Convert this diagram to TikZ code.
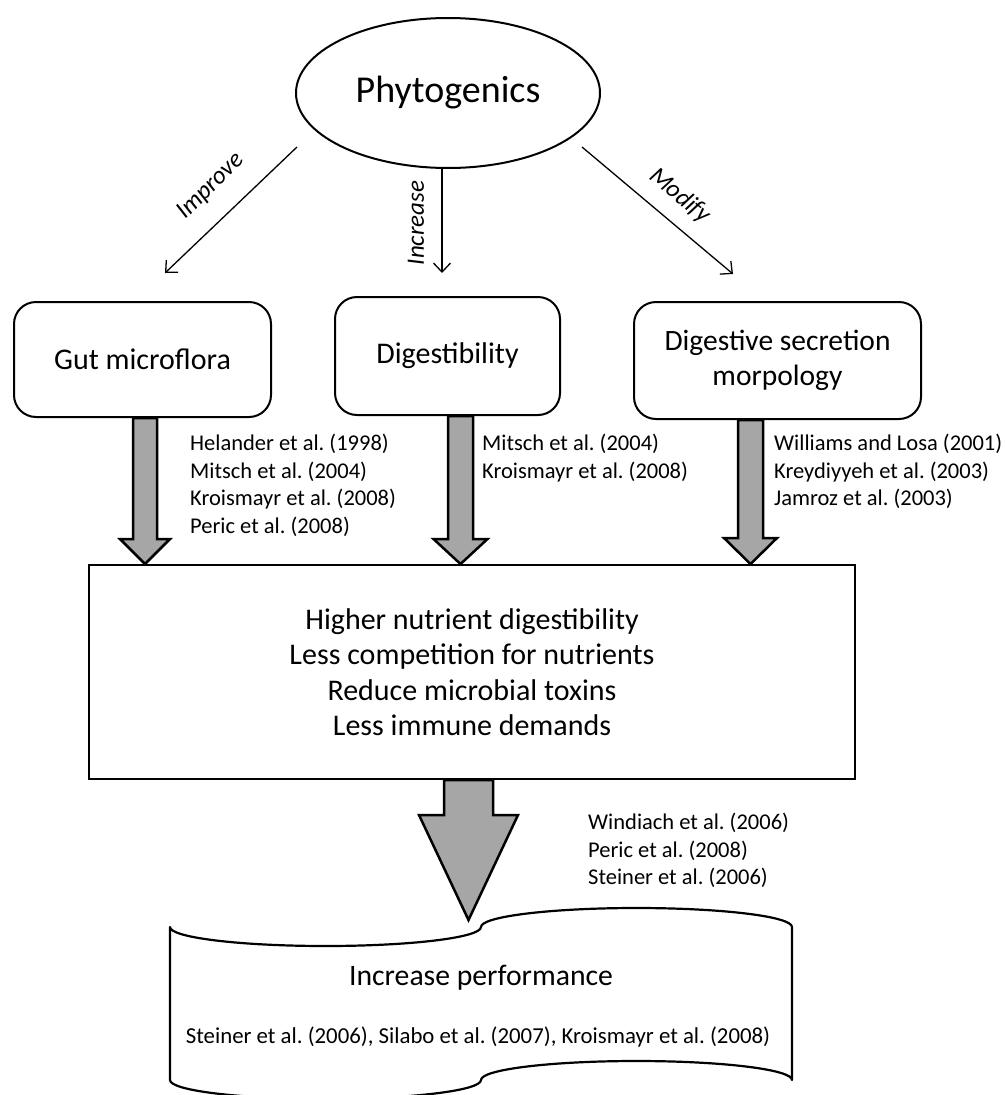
\documentclass[tikz,border=0pt]{standalone}
\usepackage{fontspec}
\setmainfont{Carlito}
\usetikzlibrary{shapes.geometric,arrows.meta,calc}
\definecolor{arrowgray}{RGB}{166,166,166}
\newcommand\citefont{\fontsize{22.5}{27.6}\selectfont}
\newcommand\blockarr[5]{\draw[blockarrow] ($(#1)+(-#3,0)$) -- ($(#2)+(-#3,-#5)$) -- ($(#2)+(-#4,-#5)$) -- (#2) -- ($(#2)+(#4,-#5)$) -- ($(#2)+(#3,-#5)$) -- ($(#1)+(#3,0)$) -- cycle;}
\frenchspacing
\begin{document}
\frenchspacing
\begin{tikzpicture}[x=1pt,y=-1pt,
  box/.style={draw,line width=2pt,rounded corners=22pt,align=center,font=\fontsize{30}{35}\selectfont,inner sep=0pt},
  thinarrow/.style={line width=1.3pt,-{Straight Barb[length=9pt,width=17pt]}},
  lab/.style={font=\fontsize{25}{28}\selectfont\itshape,inner sep=0pt},
  cite/.style={font=\citefont,align=left,anchor=north west,inner sep=0pt},
  blockarrow/.style={draw,line width=2.5pt,fill=arrowgray,line join=miter}]
\path[use as bounding box] (0,0) rectangle (1006,1095);
% top ellipse
\node[ellipse,draw,line width=2pt,minimum width=304pt,minimum height=150pt,inner sep=0pt,font=\fontsize{38}{40}\selectfont] (phy) at (448,93) {Phytogenics};
% boxes
\node[box,minimum width=257pt,minimum height=115pt] (gut) at (142.5,359.5) {Gut microflora};
\node[box,minimum width=225pt,minimum height=118pt] (dig) at (447.5,356) {Digestibility};
\node[box,minimum width=287pt,minimum height=117pt,font=\fontsize{29.5}{35}\selectfont] (sec) at (777.5,360.5) {Digestive secretion\\morpology};
\node[draw,line width=2pt,minimum width=766pt,minimum height=214pt,align=center,inner sep=0pt,font=\fontsize{30}{35.5}\selectfont] (eff) at (472,672) {Higher nutrient digestibility\\Less competition for nutrients\\Reduce microbial toxins\\Less immune demands};
% thin arrows
\coordinate (i0) at (297,147); \coordinate (i1) at (165,273);
\coordinate (c0) at (442,169); \coordinate (c1) at (442,273);
\coordinate (m0) at (582,147); \coordinate (m1) at (733,274);
\draw[thinarrow] (i0) -- (i1);
\draw[thinarrow] (c0) -- (c1);
\draw[thinarrow] (m0) -- (m1);
\node[lab,rotate=45] (limp) at (211,186) {Improve};
\node[lab,rotate=90] (linc) at (416,223) {Increase};
\node[lab,rotate=-40] (lmod) at (680,196) {Modify};
% block arrows
\coordinate (ga) at (145,0 |- gut.south); \coordinate (gb) at (145,0 |- eff.north);
\coordinate (da) at (460.5,0 |- dig.south); \coordinate (db) at (460.5,0 |- eff.north);
\coordinate (sa) at (750.5,0 |- sec.south); \coordinate (sb) at (750.5,0 |- eff.north);
\coordinate (ea) at (468.5,0 |- eff.south); \coordinate (eb) at (468.5,920);
\blockarr{ga}{gb}{12}{25}{25}
\blockarr{da}{db}{12.5}{27}{25}
\blockarr{sa}{sb}{12.5}{26.5}{26}
\blockarr{ea}{eb}{24.5}{49.5}{105}
% citations
\node[cite] (c1t) at (190,431) {\strut Helander et al. (1998)\\Mitsch et al. (2004)\\Kroismayr et al. (2008)\\Peric et al. (2008)};
\node[cite] (c2t) at (482,431) {\strut Mitsch et al. (2004)\\Kroismayr et al. (2008)};
\node[cite] (c3t) at (774,431) {\strut Williams and Losa (2001)\\Kreydiyyeh et al. (2003)\\Jamroz et al. (2003)};
\node[cite] (c4t) at (588,810) {\strut Windiach et al. (2006)\\Peric et al. (2008)\\Steiner et al. (2006)};
% punched tape
\draw[line width=2.2pt,line join=round] (170,927)
  .. controls (170,937.5) and (239.6,946) .. (325.5,946)
  .. controls (411.4,946) and (481,937.5) .. (481,927)
  .. controls (481,916.5) and (550.6,908) .. (636.5,908)
  .. controls (722.4,908) and (792,916.5) .. (792,927)
  -- (792,1080)
  .. controls (792,1069.5) and (722.4,1061) .. (636.5,1061)
  .. controls (550.6,1061) and (481,1069.5) .. (481,1080)
  .. controls (481,1090.5) and (411.4,1099) .. (325.5,1099)
  .. controls (239.6,1099) and (170,1090.5) .. (170,1080)
  -- cycle;
\node[font=\fontsize{29.7}{35}\selectfont,inner sep=0pt] (perf) at (481,978) {Increase performance};
\node[font=\fontsize{22.8}{27.6}\selectfont,inner sep=0pt] (perfcite) at (478,1037) {Steiner et al. (2006), Silabo et al. (2007), Kroismayr et al. (2008)};
\end{tikzpicture}
\end{document}
